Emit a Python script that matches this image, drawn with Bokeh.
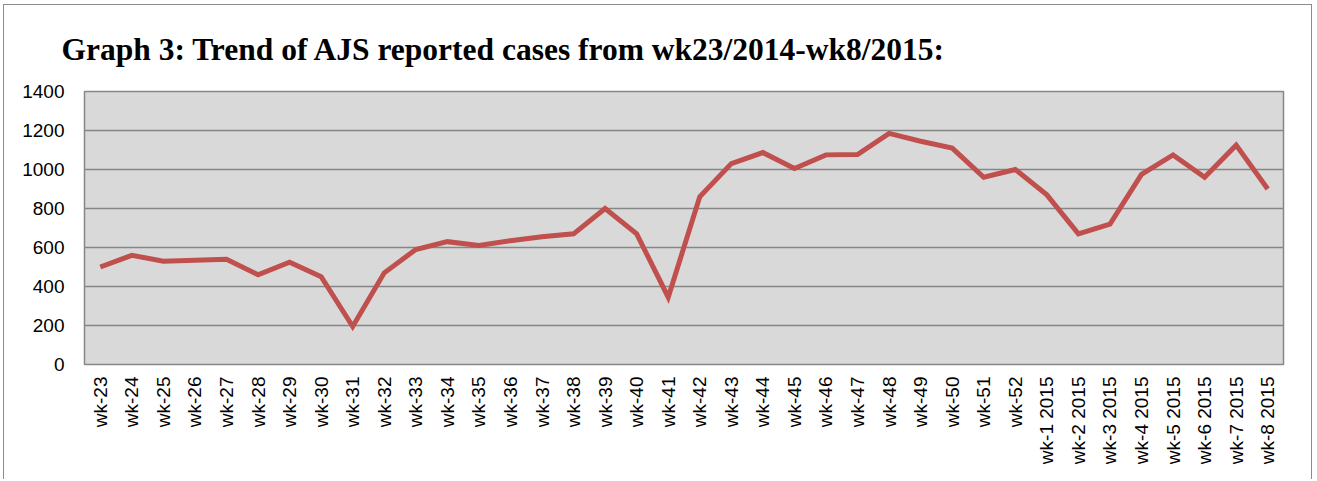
import math
from bokeh.plotting import figure
from bokeh.models import FactorRange, Range1d, FixedTicker
from bokeh.embed import file_html
from bokeh.resources import INLINE

weeks = ["wk-23", "wk-24", "wk-25", "wk-26", "wk-27", "wk-28", "wk-29", "wk-30",
         "wk-31", "wk-32", "wk-33", "wk-34", "wk-35", "wk-36", "wk-37", "wk-38",
         "wk-39", "wk-40", "wk-41", "wk-42", "wk-43", "wk-44", "wk-45", "wk-46",
         "wk-47", "wk-48", "wk-49", "wk-50", "wk-51", "wk-52",
         "wk-1 2015", "wk-2 2015", "wk-3 2015", "wk-4 2015", "wk-5 2015",
         "wk-6 2015", "wk-7 2015", "wk-8 2015"]
cases = [500, 560, 530, 535, 540, 460, 525, 450,
         195, 470, 590, 630, 610, 635, 655, 670,
         800, 670, 345, 860, 1030, 1087, 1005, 1075,
         1077, 1185, 1145, 1110, 960, 1000,
         870, 670, 720, 975, 1075,
         960, 1125, 900]
y_ticks = [0, 200, 400, 600, 800, 1000, 1200, 1400]
title_text = "Graph 3: Trend of AJS reported cases from wk23/2014-wk8/2015:"

p = figure(width=1309, height=475, output_backend="svg", toolbar_location=None,
           x_range=FactorRange(factors=weeks), y_range=Range1d(0, 1400),
           title=title_text, min_border_left=80, min_border_right=30,
           min_border_top=86, min_border_bottom=116)

p.margin = (4, 0, 0, 3)
p.styles = {"border-top": "1px solid #8c8c8c", "border-left": "1px solid #8c8c8c",
            "border-right": "1px solid #8c8c8c"}

p.title.text_font = "Liberation Serif"
p.title.text_font_style = "bold"
p.title.text_font_size = "31.5px"
p.title.text_color = "#000000"
p.title.align = "left"
p.title.offset = -23
p.title.standoff = 49

p.background_fill_color = "#d9d9d9"
p.border_fill_color = "#ffffff"
p.outline_line_color = "#868686"
p.outline_line_width = 1.5

p.line(x=weeks, y=cases, line_color="#c0504d", line_width=5, line_join="miter")

p.xgrid.grid_line_color = None
p.ygrid.grid_line_color = "#868686"
p.ygrid.grid_line_width = 1.5
p.yaxis.ticker = FixedTicker(ticks=y_ticks)

for ax in (p.xaxis[0], p.yaxis[0]):
    ax.axis_line_color = None
    ax.major_tick_line_color = None
    ax.minor_tick_line_color = None
    ax.major_label_text_font = "Liberation Sans"
    ax.major_label_text_font_size = "19px"
    ax.major_label_text_color = "#000000"

p.yaxis.major_label_standoff = 14
p.xaxis.major_label_orientation = math.pi / 2
p.xaxis.major_label_standoff = 6

open("out.html", "w").write(file_html(p, INLINE))
